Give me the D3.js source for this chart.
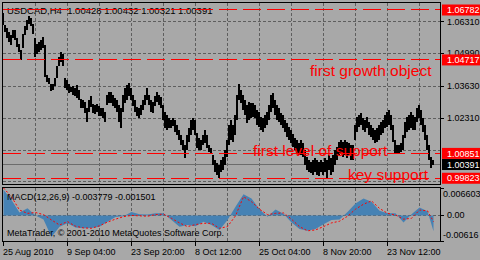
<!DOCTYPE html>
<html>
<head>
<meta charset="utf-8">
<script src="https://cdn.jsdelivr.net/npm/d3@7/dist/d3.min.js"></script>
<style>
  html, body { margin: 0; padding: 0; background: #a8a8a8; }
  svg { display: block; }
  text { font-family: "Liberation Sans", Arial, sans-serif; }
</style>
</head>
<body>
<svg id="chart" width="480" height="260"></svg>
<script>
// USDCAD H4, high / low read every 2 bars
const priceHigh = [
  1.0666,1.0616,1.0604,1.0587,1.0575,1.0596,1.0596,1.0562,1.0538,1.0513,
  1.0579,1.0612,1.0637,1.0653,1.0645,1.0620,1.0562,1.0538,1.0546,1.0554,
  1.0567,1.0533,1.0409,1.0397,1.0372,1.0372,1.0397,1.0447,1.0484,1.0505,
  1.0496,1.0397,1.0389,1.0372,1.0360,1.0364,1.0356,1.0368,1.0347,1.0310,
  1.0306,1.0298,1.0273,1.0306,1.0323,1.0289,1.0285,1.0289,1.0281,1.0273,
  1.0273,1.0256,1.0327,1.0339,
  1.0339,1.0327,1.0314,1.0306,1.0285,1.0273,1.0327,1.0356,1.0368,1.0376,
  1.0356,1.0327,1.0306,1.0277,1.0273,1.0285,1.0306,1.0327,1.0356,1.0327,
  1.0306,1.0298,1.0323,1.0339,1.0327,1.0318,1.0285,1.0256,1.0244,1.0232,
  1.0223,1.0232,1.0223,1.0203,1.0182,1.0161,1.0141,1.0120,1.0161,1.0190,
  1.0223,1.0232,1.0223,1.0170,1.0149,1.0141,1.0161,1.0182,1.0161,1.0120,
  1.0107,1.0079,1.0058,1.0045,1.0037,1.0058,
  1.0070,1.0099,1.0141,1.0203,1.0223,1.0203,1.0244,1.0327,1.0372,1.0347,
  1.0327,1.0306,1.0285,1.0298,1.0294,1.0294,1.0285,1.0265,1.0256,1.0236,
  1.0232,1.0244,1.0256,1.0285,1.0327,1.0335,1.0306,1.0285,1.0273,1.0252,
  1.0244,1.0223,1.0211,1.0194,1.0182,1.0165,1.0149,1.0141,1.0128,1.0141,
  1.0128,1.0099,1.0070,1.0058,1.0050,1.0058,1.0066,1.0058,1.0050,1.0058,
  1.0050,1.0066,1.0058,1.0079,1.0066,
  1.0079,1.0099,1.0112,1.0132,1.0141,1.0132,1.0141,1.0132,1.0128,1.0120,
  1.0120,1.0203,1.0236,1.0244,1.0252,1.0232,1.0223,1.0236,1.0215,1.0203,
  1.0190,1.0182,1.0190,1.0203,1.0215,1.0223,1.0244,1.0256,1.0265,1.0244,
  1.0203,1.0141,1.0120,1.0120,1.0128,1.0161,1.0215,1.0236,1.0244,1.0256,
  1.0244,1.0236,1.0273,1.0285,1.0265,1.0232,1.0203,1.0161,1.0120,1.0070,
  1.0058
];
const priceLow = [
  1.0616,1.0587,1.0562,1.0546,1.0533,1.0562,1.0554,1.0525,1.0505,1.0471,
  1.0521,1.0575,1.0596,1.0620,1.0612,1.0579,1.0484,1.0496,1.0505,1.0513,
  1.0521,1.0401,1.0380,1.0372,1.0343,1.0347,1.0364,1.0397,1.0447,1.0463,
  1.0447,1.0356,1.0347,1.0335,1.0339,1.0327,1.0323,1.0314,1.0306,1.0273,
  1.0273,1.0252,1.0215,1.0256,1.0277,1.0252,1.0248,1.0256,1.0240,1.0240,
  1.0232,1.0215,1.0285,1.0294,
  1.0294,1.0281,1.0273,1.0256,1.0215,1.0190,1.0256,1.0294,1.0306,1.0323,
  1.0306,1.0281,1.0256,1.0240,1.0232,1.0244,1.0265,1.0285,1.0306,1.0285,
  1.0256,1.0252,1.0281,1.0298,1.0285,1.0273,1.0223,1.0190,1.0182,1.0190,
  1.0190,1.0198,1.0174,1.0161,1.0141,1.0120,1.0099,1.0066,1.0099,1.0132,
  1.0161,1.0182,1.0161,1.0107,1.0099,1.0099,1.0120,1.0128,1.0107,1.0091,
  1.0087,1.0037,1.0008,0.9996,0.9983,1.0008,
  1.0017,1.0037,1.0070,1.0120,1.0141,1.0132,1.0161,1.0223,1.0306,1.0294,
  1.0265,1.0244,1.0211,1.0223,1.0232,1.0236,1.0232,1.0203,1.0194,1.0182,
  1.0174,1.0190,1.0203,1.0223,1.0256,1.0273,1.0244,1.0223,1.0215,1.0203,
  1.0190,1.0174,1.0153,1.0141,1.0128,1.0112,1.0099,1.0087,1.0079,1.0079,
  1.0070,1.0037,1.0017,1.0008,1.0004,0.9996,1.0008,0.9996,0.9992,1.0008,
  0.9996,1.0008,0.9983,1.0017,0.9996,
  1.0008,1.0037,1.0058,1.0079,1.0087,1.0070,1.0079,1.0066,1.0079,1.0058,
  1.0058,1.0141,1.0174,1.0194,1.0203,1.0182,1.0174,1.0190,1.0161,1.0153,
  1.0141,1.0128,1.0132,1.0141,1.0161,1.0170,1.0190,1.0194,1.0203,1.0182,
  1.0132,1.0087,1.0087,1.0087,1.0091,1.0099,1.0149,1.0174,1.0182,1.0190,
  1.0182,1.0182,1.0215,1.0232,1.0203,1.0174,1.0141,1.0099,1.0058,1.0025,
  1.0037
];

// MACD(12,26,9), read every 8 bars plus the last bar
const macdMain = [
  0.0062,0.0037,0.0007,0.0017,0.0000,-0.0010,-0.0052,-0.0027,-0.0019,-0.0029,
  -0.0031,-0.0030,-0.0027,-0.0015,-0.0004,-0.0002,0.0008,0.0003,0.0002,0.0005,
  0.0005,-0.0011,-0.0027,-0.0023,-0.0026,-0.0015,-0.0023,-0.0035,-0.0011,0.0021,
  0.0051,0.0041,0.0015,-0.0003,0.0014,0.0004,-0.0017,-0.0033,-0.0037,-0.0033,
  -0.0021,-0.0011,-0.0010,0.0008,0.0029,0.0041,0.0033,0.0011,0.0005,0.0005,
  -0.0017,0.0003,0.0019,0.0010,-0.0038
];
const macdSignal = [
  0.0066,0.0045,0.0013,0.0005,0.0007,0.0002,-0.0011,-0.0023,-0.0015,-0.0026,
  -0.0030,-0.0031,-0.0025,-0.0016,-0.0009,-0.0003,0.0000,-0.0001,-0.0002,0.0002,
  0.0003,-0.0007,-0.0018,-0.0027,-0.0022,-0.0019,-0.0019,-0.0031,-0.0027,-0.0001,
  0.0045,0.0033,0.0015,0.0002,0.0005,0.0006,-0.0009,-0.0027,-0.0037,-0.0035,
  -0.0027,-0.0018,-0.0014,-0.0002,0.0015,0.0027,0.0035,0.0017,0.0005,0.0001,
  -0.0009,-0.0007,0.0013,0.0011,-0.0015
];

const timeLabels = ["25 Aug 2010", "9 Sep 04:00", "23 Sep 20:00", "8 Oct 12:00",
  "25 Oct 04:00", "8 Nov 20:00", "23 Nov 12:00"];

const priceGrid = [1.0631, 1.0499, 1.0363, 1.0231, 1.0099, 0.9968];
const priceGridLabels = ["1.06310", "1.04990", "1.03630", "1.02310", "", ""];

const levelPrices = [1.06782, 1.04717, 1.00851, 0.99823];
const levelLabels = ["1.06782", "1.04717", "1.00851", "0.99823"];
const levelNotes = ["", "first growth object", "first level of support", "key support"];

const bidPrice = 1.00391;
const bidLabel = "1.00391";
const headerText = "USDCAD,H4  1.00428 1.00432 1.00321 1.00391";
const macdText = "MACD(12,26,9) -0.003779 -0.001501";
const footerText = "MetaTrader, \u00a9 2001-2010 MetaQuotes Software Corp.";

const macdTicks = [0.006603, 0, -0.00616];
const macdTickLabels = ["0.006603", "0.00", "-0.00616"];

const barStep = 2, macdStep = 8, gridStep = 32, labelStep = 64, lastBar = 430;

const svg = d3.select("#chart");
const px = (v) => Math.floor(v) + 0.5;

const x = d3.scaleLinear().domain([0, 437]).range([3.5, 440.5]);
const y = d3.scaleLinear().domain([0.99565, 1.07092]).range([184.5, 2.5]);
const ym = d3.scaleLinear().domain([-0.00616, 0.006603]).range([241, 188]);

svg.append("rect").attr("width", 480).attr("height", 260).attr("fill", "#a8a8a8");

const defs = svg.append("defs");
defs.append("clipPath").attr("id", "clipMain")
  .append("rect").attr("x", 3).attr("y", 3).attr("width", 437).attr("height", 181);
defs.append("clipPath").attr("id", "clipSub")
  .append("rect").attr("x", 3).attr("y", 188).attr("width", 437).attr("height", 53);

// grid
const grid = svg.append("g")
  .attr("stroke", "#5e5e5e")
  .attr("stroke-dasharray", "3,2")
  .attr("shape-rendering", "crispEdges");

d3.range(gridStep, 437, gridStep).forEach((b) => {
  grid.append("line").attr("x1", px(x(b))).attr("x2", px(x(b))).attr("y1", 3).attr("y2", 184);
  grid.append("line").attr("x1", px(x(b))).attr("x2", px(x(b))).attr("y1", 188).attr("y2", 241);
});
priceGrid.forEach((p) => {
  grid.append("line").attr("x1", 3).attr("x2", 440).attr("y1", px(y(p))).attr("y2", px(y(p)));
});
grid.append("line").attr("x1", 3).attr("x2", 440).attr("y1", px(ym(0))).attr("y2", px(ym(0)));

// bid line
svg.append("line")
  .attr("x1", 3).attr("x2", 440)
  .attr("y1", px(y(bidPrice))).attr("y2", px(y(bidPrice)))
  .attr("stroke", "#6c6c6c")
  .attr("shape-rendering", "crispEdges");

// price bars
svg.append("g")
  .attr("clip-path", "url(#clipMain)")
  .attr("shape-rendering", "crispEdges")
  .selectAll("rect")
  .data(priceHigh)
  .join("rect")
  .attr("x", (d, i) => Math.floor(x(i * barStep)) - 1)
  .attr("width", 2)
  .attr("y", (d) => Math.round(y(d)))
  .attr("height", (d, i) => Math.max(1, Math.round(y(priceLow[i])) - Math.round(y(d))))
  .attr("fill", "#000");

// header
svg.append("text")
  .attr("x", 7).attr("y", 14)
  .attr("font-size", 9.5)
  .attr("fill", "#000")
  .style("white-space", "pre")
  .text(headerText);

// level lines and notes
const notePos = [null, [310, 16.5], [253, 3], [348, 2]];
levelPrices.forEach((p, i) => {
  const ly = px(y(p));
  svg.append("line")
    .attr("x1", 3).attr("x2", 440)
    .attr("y1", ly).attr("y2", ly)
    .attr("stroke", "#ff0000")
    .attr("stroke-dasharray", "18,6")
    .attr("shape-rendering", "crispEdges");
  if (levelNotes[i]) {
    svg.append("text")
      .attr("x", notePos[i][0])
      .attr("y", y(p) + notePos[i][1])
      .attr("font-size", 15.5)
      .attr("fill", "#ff0000")
      .text(levelNotes[i]);
  }
});

// MACD
const macdBars = d3.range(0, macdMain.length - 1).map((i) => i * macdStep).concat([lastBar]);
const sub = svg.append("g").attr("clip-path", "url(#clipSub)");
sub.append("path")
  .datum(macdMain)
  .attr("fill", "#4682b4")
  .attr("d", d3.area()
    .x((d, i) => x(macdBars[i]))
    .y0(ym(0))
    .y1((d) => ym(d)));
sub.append("path")
  .datum(macdSignal)
  .attr("fill", "none")
  .attr("stroke", "#ff0000")
  .attr("stroke-width", 1)
  .attr("stroke-dasharray", "2,2")
  .attr("d", d3.line()
    .x((d, i) => x(macdBars[i]))
    .y((d) => ym(d)));

svg.append("text")
  .attr("x", 7).attr("y", 199.5)
  .attr("font-size", 9)
  .attr("fill", "#000")
  .text(macdText);

svg.append("text")
  .attr("x", 7).attr("y", 236)
  .attr("font-size", 9)
  .attr("fill", "#000")
  .text(footerText);

// frames
svg.append("g")
  .attr("fill", "none")
  .attr("stroke", "#000")
  .attr("shape-rendering", "crispEdges")
  .call((g) => {
    g.append("rect").attr("x", 2.5).attr("y", 2.5).attr("width", 438).attr("height", 182);
    g.append("rect").attr("x", 2.5).attr("y", 187.5).attr("width", 438).attr("height", 54);
  });

// price axis
const axis = svg.append("g").attr("font-size", 9);
priceGrid.forEach((p, i) => {
  if (!priceGridLabels[i]) return;
  axis.append("line").attr("x1", 441).attr("x2", 444)
    .attr("y1", px(y(p))).attr("y2", px(y(p))).attr("stroke", "#000");
  axis.append("text").attr("x", 447).attr("y", y(p)).attr("dy", "0.35em")
    .attr("fill", "#000").text(priceGridLabels[i]);
});
levelPrices.forEach((p, i) => {
  axis.append("rect").attr("x", 442).attr("y", y(p) - 5.5)
    .attr("width", 38).attr("height", 11).attr("fill", "#ff0000");
  axis.append("text").attr("x", 447).attr("y", y(p)).attr("dy", "0.35em")
    .attr("fill", "#ffffff").text(levelLabels[i]);
});
axis.append("rect").attr("x", 442).attr("y", y(bidPrice) - 5.5)
  .attr("width", 38).attr("height", 11).attr("fill", "#000");
axis.append("text").attr("x", 447).attr("y", y(bidPrice)).attr("dy", "0.35em")
  .attr("fill", "#ffffff").text(bidLabel);

// MACD axis
const macdLabelY = [194, ym(0) - 1, 235];
macdTicks.forEach((v, i) => {
  axis.append("line").attr("x1", 441).attr("x2", 444)
    .attr("y1", px(ym(v))).attr("y2", px(ym(v))).attr("stroke", "#000");
  axis.append("text").attr("x", i === 1 ? 447 : 443).attr("y", macdLabelY[i]).attr("dy", "0.35em")
    .attr("fill", "#000").text(macdTickLabels[i]);
});

// time axis
timeLabels.forEach((t, i) => {
  const tx = px(x(i * labelStep));
  axis.append("line").attr("x1", tx).attr("x2", tx).attr("y1", 242).attr("y2", 246)
    .attr("stroke", "#000").attr("shape-rendering", "crispEdges");
  axis.append("text").attr("x", tx - 0.5).attr("y", 255).attr("fill", "#000").text(t);
});
</script>
</body>
</html>
